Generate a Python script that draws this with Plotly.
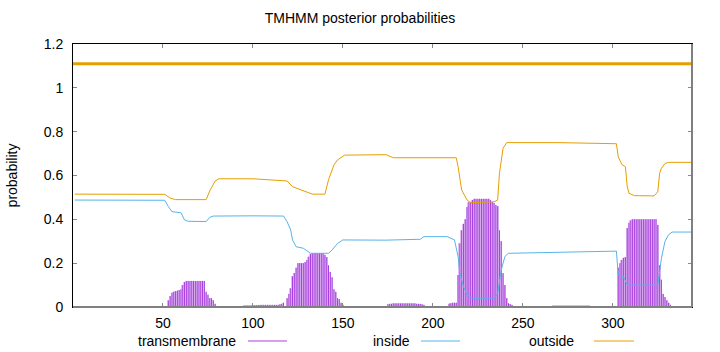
import plotly.graph_objects as go

# ---------------- data ----------------
seq_len = 344

# transmembrane posterior (impulses), residues with non-zero value
tm_pos = (list(range(53, 80)) + list(range(95, 118)) + list(range(119, 151))
          + list(range(175, 196)) + list(range(209, 245)) + list(range(265, 291))
          + list(range(303, 333)))
tm_val = (
    # 53..79
    [0.03, 0.05, 0.065, 0.07, 0.072, 0.075, 0.077, 0.08, 0.10, 0.114,
     0.119, 0.119, 0.119, 0.119, 0.119, 0.119, 0.119, 0.119, 0.119, 0.119, 0.119,
     0.07, 0.057, 0.04, 0.04, 0.03, 0.015]
    # 95..117
    + [0.006, 0.006, 0.006, 0.006, 0.007, 0.007, 0.008, 0.008, 0.009, 0.01,
       0.01, 0.01, 0.01, 0.01, 0.01, 0.01, 0.01, 0.01, 0.01, 0.01, 0.012, 0.015, 0.02]
    # 119..150
    + [0.04, 0.06, 0.085, 0.14, 0.155, 0.18, 0.20, 0.20, 0.20, 0.20, 0.205, 0.215,
       0.23, 0.242, 0.245, 0.245, 0.245, 0.245, 0.245, 0.245, 0.245, 0.238, 0.227,
       0.19, 0.16, 0.135, 0.08, 0.07, 0.04, 0.036, 0.02, 0.01]
    # 175..195
    + [0.012, 0.015, 0.015, 0.016, 0.016, 0.016, 0.016, 0.016, 0.016, 0.016,
       0.016, 0.016, 0.016, 0.016, 0.016, 0.016, 0.015, 0.015, 0.014, 0.012, 0.01]
    # 209..244
    + [0.015, 0.017, 0.02, 0.02, 0.02, 0.146, 0.29, 0.35, 0.38, 0.40, 0.457, 0.478,
       0.48, 0.488, 0.494, 0.494, 0.494, 0.494, 0.494, 0.494, 0.494, 0.494, 0.494,
       0.488, 0.48, 0.475, 0.465, 0.46, 0.35, 0.30, 0.154, 0.10, 0.04, 0.017, 0.014, 0.01]
    # 265..290
    + [0.004, 0.004, 0.005, 0.005, 0.005, 0.005, 0.005, 0.005, 0.005, 0.005,
       0.005, 0.005, 0.005, 0.005, 0.005, 0.005, 0.005, 0.005, 0.005, 0.005,
       0.005, 0.005, 0.005, 0.004, 0.004, 0.004]
    # 303..332
    + [0.18, 0.20, 0.215, 0.225, 0.227, 0.36, 0.385, 0.395, 0.40, 0.40, 0.40, 0.40,
       0.40, 0.40, 0.40, 0.40, 0.40, 0.40, 0.40, 0.40, 0.40, 0.40, 0.375, 0.19,
       0.125, 0.06, 0.045, 0.03, 0.02, 0.01]
)

# inside posterior (line), read at breakpoints
inside_x = [1, 51, 53, 55, 60, 62, 64, 74, 76, 78, 100, 117, 119, 121, 122, 124,
            128, 132, 142, 144, 147, 150, 174, 193, 195, 208, 212, 214, 215, 217,
            219, 222, 234, 236, 238, 240, 242, 270, 302, 303, 306, 308, 325, 326,
            327, 329, 331, 333, 344]
inside_y = [0.488, 0.487, 0.458, 0.435, 0.43, 0.397, 0.391, 0.39, 0.409, 0.415,
            0.416, 0.415, 0.389, 0.351, 0.306, 0.275, 0.268, 0.245, 0.245, 0.26,
            0.29, 0.306, 0.305, 0.309, 0.321, 0.321, 0.306, 0.23, 0.154, 0.093,
            0.055, 0.04, 0.04, 0.062, 0.169, 0.23, 0.245, 0.25, 0.255, 0.146,
            0.138, 0.10, 0.10, 0.161, 0.222, 0.30, 0.33, 0.342, 0.342]

# outside posterior (line), read at breakpoints
outside_x = [1, 51, 54, 57, 74, 76, 79, 81, 100, 110, 119, 122, 130, 133, 140, 142,
             145, 147, 151, 174, 178, 213, 214, 216, 219, 221, 234, 236, 237, 239,
             241, 270, 302, 303, 305, 307, 308, 309, 312, 323, 325, 326, 327, 329,
             331, 344]
outside_y = [0.515, 0.514, 0.497, 0.49, 0.49, 0.53, 0.575, 0.585, 0.585, 0.58,
             0.575, 0.549, 0.526, 0.515, 0.515, 0.58, 0.648, 0.671, 0.693, 0.695,
             0.681, 0.681, 0.64, 0.534, 0.488, 0.476, 0.48, 0.488, 0.61, 0.724,
             0.75, 0.75, 0.745, 0.686, 0.65, 0.64, 0.549, 0.519, 0.508, 0.507,
             0.526, 0.61, 0.633, 0.655, 0.66, 0.66]

# predicted topology line (outside) drawn above the plot
topo_x = [0, 344]
topo_y = [1.11, 1.11]

x_ticks = [50, 100, 150, 200, 250, 300]
y_ticks = [0, 0.2, 0.4, 0.6, 0.8, 1.0, 1.2]
y_tick_text = ["0", "0.2", "0.4", "0.6", "0.8", "1", "1.2"]

# ---------------- figure ----------------
FONT = "Liberation Sans, Arial, sans-serif"
PURPLE = "#a63fdc"
PURPLE_LIGHT = "#e2c0f4"
BLUE = "#56b4e9"
ORANGE = "#e69f00"

fig = go.Figure()

# light fill under impulses
fig.add_trace(go.Bar(x=tm_pos, y=tm_val, width=1.0, marker=dict(color=PURPLE_LIGHT, line=dict(width=0)),
                     showlegend=False, hoverinfo="skip"))

# impulses: vertical segments from 0 to value at each residue
imp_x, imp_y = [], []
for xp, yv in zip(tm_pos, tm_val):
    imp_x += [xp, xp, None]
    imp_y += [0, yv, None]
fig.add_trace(go.Scatter(x=imp_x, y=imp_y, mode="lines", line=dict(color=PURPLE, width=1),
                         name="transmembrane", showlegend=False))

fig.add_trace(go.Scatter(x=inside_x, y=inside_y, mode="lines", line=dict(color=BLUE, width=1),
                         name="inside", showlegend=False))
fig.add_trace(go.Scatter(x=outside_x, y=outside_y, mode="lines", line=dict(color=ORANGE, width=1),
                         name="outside", showlegend=False))
fig.add_trace(go.Scatter(x=topo_x, y=topo_y, mode="lines", line=dict(color=ORANGE, width=3),
                         showlegend=False, hoverinfo="skip"))

W, H = 720, 352
L, R, T, B = 73, 28, 44, 45

fig.update_layout(
    width=W, height=H,
    margin=dict(l=L, r=R, t=T, b=B),
    paper_bgcolor="white", plot_bgcolor="white",
    barmode="overlay", bargap=0,
    font=dict(family=FONT, size=14, color="#000000"),
    title=dict(text="TMHMM posterior probabilities", x=0.5, xanchor="center",
               y=1 - 18 / H, yanchor="middle", font=dict(family=FONT, size=14)),
    xaxis=dict(range=[0, seq_len], tickvals=x_ticks, ticks="inside", ticklen=4,
               tickcolor="#888888", mirror="allticks", showline=True, linecolor="#000000",
               linewidth=1, showgrid=False, zeroline=False, tickfont=dict(size=14),
               ticklabelstandoff=3),
    yaxis=dict(range=[0, 1.2], tickvals=y_ticks, ticktext=y_tick_text, ticks="inside",
               ticklen=4, tickcolor="#888888", mirror="allticks", showline=True,
               linecolor="#000000", linewidth=1, showgrid=False, zeroline=False,
               tickfont=dict(size=14), ticklabelstandoff=6,
               title=dict(text="probability", standoff=22, font=dict(size=14))),
    showlegend=False,
)

# gray bottom and right borders
fig.add_shape(type="line", xref="paper", yref="paper", x0=0, x1=1, y0=0, y1=0,
              line=dict(color="#808080", width=2), layer="above")
fig.add_shape(type="line", xref="paper", yref="paper", x0=1, x1=1, y0=0, y1=1,
              line=dict(color="#808080", width=2), layer="above")

# legend drawn along bottom (text + sample line)
pw = W - L - R
ph = H - T - B
def px_x(p):
    return (p - L) / pw
def px_y(p):
    return (H - B - p) / ph

legend_items = [("transmembrane", PURPLE, 238, 248, 287),
                ("inside", BLUE, 412, 421, 460),
                ("outside", ORANGE, 576, 594, 634)]
for label, col, text_right, l0, l1 in legend_items:
    fig.add_annotation(x=px_x(text_right), y=px_y(341), xref="paper", yref="paper",
                       text=label, showarrow=False, xanchor="right", yanchor="middle",
                       font=dict(family=FONT, size=14, color="#000000"))
    fig.add_shape(type="line", xref="paper", yref="paper", x0=px_x(l0), x1=px_x(l1),
                  y0=px_y(341), y1=px_y(341), line=dict(color=col, width=1))

fig.write_html("out.html")
